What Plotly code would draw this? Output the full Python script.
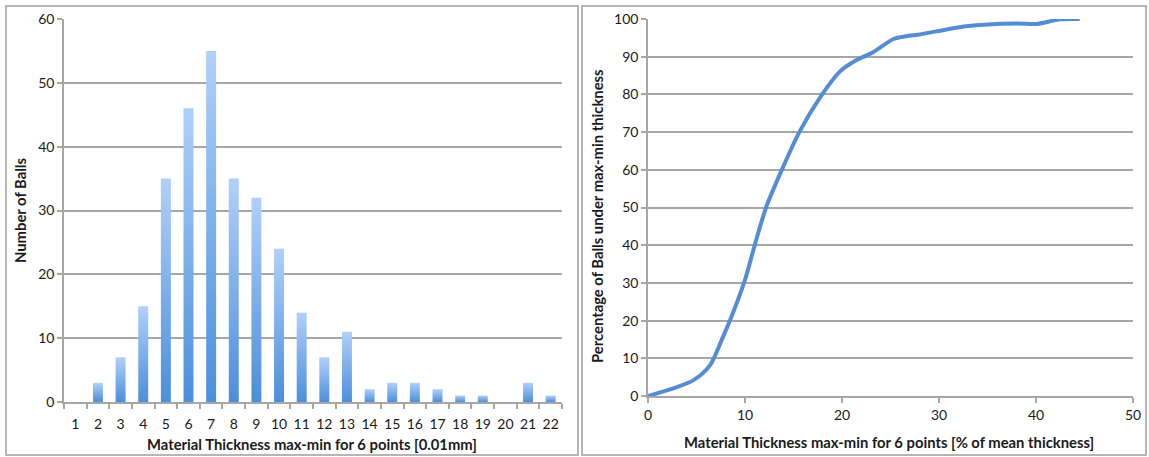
import plotly.graph_objects as go

# histogram: max-min thickness classes [0.01mm] and number of balls
thickness_class = list(range(1, 23))
ball_count = [0, 3, 7, 15, 35, 46, 55, 35, 32, 24, 14, 7, 11, 2, 3, 3, 2, 1, 1, 0, 3, 1]

# cumulative curve: % of mean thickness vs % of balls below it
pct_of_mean = [0, 2.6, 4.7, 6.4, 7.6, 8.6, 10.0, 11.0, 12.2, 13.8, 15.6, 17.9,
               19.8, 21.5, 23.2, 25.3, 26.3, 28.0, 32.8, 38.0, 40.1, 42.5, 44.5]
pct_balls = [0, 2.0, 4.2, 8.2, 14.9, 21.0, 30.8, 40.0, 50.2, 60.0, 70.0, 79.8,
             86.1, 89.1, 91.2, 94.7, 95.3, 95.9, 98.1, 98.8, 98.7, 99.9, 100]

W, H = 1149, 457
FONT = "Lato"
GRID = "#a6a6a6"
TXT = "#1a1a1a"

def px_x(v):
    return v / W

def px_y(v):
    return 1 - v / H

fig = go.Figure()

# bars drawn as filled polygons so each one gets Excel-like vertical gradient
half = 0.22
for k, n in zip(thickness_class, ball_count):
    if n == 0:
        continue
    fig.add_trace(go.Scatter(
        x=[k - half, k + half, k + half, k - half, k - half],
        y=[0, 0, n, n, 0],
        mode="lines", line=dict(width=0),
        fill="toself",
        fillgradient=dict(type="vertical",
                          colorscale=[[0, "#4b8fdb"], [1, "#b0d0fa"]]),
        xaxis="x", yaxis="y", showlegend=False, hoverinfo="skip",
    ))

fig.add_trace(go.Scatter(
    x=pct_of_mean, y=pct_balls, mode="lines",
    line=dict(color="#548dd4", width=4, shape="spline", smoothing=0.8),
    xaxis="x2", yaxis="y2", showlegend=False, hoverinfo="skip",
))

axis_font = dict(family=FONT, size=14, color=TXT)

fig.update_layout(
    width=W, height=H,
    margin=dict(l=0, r=0, t=0, b=0, autoexpand=False),
    paper_bgcolor="white", plot_bgcolor="white",
    font=dict(family=FONT, color=TXT),
    xaxis=dict(
        domain=[px_x(64), px_x(562)], range=[0.5, 22.5],
        tickmode="linear", tick0=1, dtick=1, ticks="",
        showgrid=False, zeroline=False, fixedrange=True,
        showline=True, linecolor=GRID, linewidth=1.5,
        tickfont=axis_font, ticklabelstandoff=8,
        minor=dict(tick0=0.5, dtick=1, ticks="outside", ticklen=5,
                   tickcolor=GRID, tickwidth=1.5, showgrid=False),
    ),
    yaxis=dict(
        domain=[px_y(402), px_y(19)], range=[0, 60],
        tickmode="linear", tick0=0, dtick=10,
        ticks="outside", ticklen=5, tickcolor=GRID, tickwidth=1.5,
        showgrid=True, gridcolor=GRID, gridwidth=1.5, zeroline=False,
        showline=True, linecolor=GRID, linewidth=1.5,
        tickfont=axis_font, fixedrange=True,
    ),
    xaxis2=dict(
        domain=[px_x(648), px_x(1133)], range=[0, 50], anchor="y2",
        tickmode="linear", tick0=0, dtick=10,
        ticks="outside", ticklen=5, tickcolor=GRID, tickwidth=1.5,
        showgrid=False, zeroline=False, fixedrange=True,
        showline=True, linecolor=GRID, linewidth=1.5,
        tickfont=axis_font,
    ),
    yaxis2=dict(
        domain=[px_y(396), px_y(19)], range=[0, 100], anchor="x2",
        tickmode="linear", tick0=0, dtick=10,
        ticks="outside", ticklen=5, tickcolor=GRID, tickwidth=1.5,
        showgrid=True, gridcolor=GRID, gridwidth=1.5, zeroline=False,
        showline=True, linecolor=GRID, linewidth=1.5,
        tickfont=axis_font, fixedrange=True,
    ),
    shapes=[
        dict(type="rect", xref="paper", yref="paper",
             x0=px_x(6), x1=px_x(578), y0=px_y(455), y1=px_y(6),
             line=dict(color="#b5b5b5", width=2), layer="below"),
        dict(type="rect", xref="paper", yref="paper",
             x0=px_x(582), x1=px_x(1146), y0=px_y(455), y1=px_y(6),
             line=dict(color="#b5b5b5", width=2), layer="below"),
    ],
)

title_font = dict(family=FONT, size=14.8, color=TXT)
titles = [
    ("<b>Material Thickness max-min for 6 points [0.01mm]</b>", 312, 444, 0),
    ("<b>Number of Balls</b>", 20, 210, -90),
    ("<b>Material Thickness max-min for 6 points [% of mean thickness]</b>", 889, 442, 0),
    ("<b>Percentage of Balls under max-min thickness</b>", 597, 216, -90),
]
for text, tx, ty, ang in titles:
    fig.add_annotation(text=text, textangle=ang,
                       xref="paper", yref="paper", x=px_x(tx), y=px_y(ty),
                       xanchor="center", yanchor="middle",
                       showarrow=False, font=title_font)

fig.write_html("out.html", config={"displayModeBar": False},
               post_script="document.body.style.margin='0px';")
